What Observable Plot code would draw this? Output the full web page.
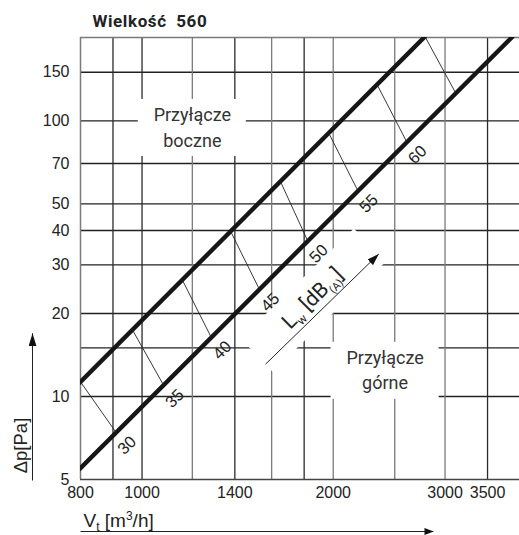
<!DOCTYPE html>
<html><head><meta charset="utf-8">
<script src="https://cdn.jsdelivr.net/npm/d3@7"></script>
<script src="https://cdn.jsdelivr.net/npm/@observablehq/plot@0.6"></script>
<style>body{margin:0;background:#fff} svg{display:block}</style>
</head><body><div id="chart"></div>
<script>
// ---- axes / grid values ----
const xTicks = [800, 1000, 1400, 2000, 3000, 3500];
const xGridDark = [900, 1000, 1400, 1800, 3500];
const xGridLight = [1200, 1600, 2000, 2500, 3000];
const yTicks = [5, 10, 20, 30, 40, 50, 70, 100, 150];
const yGrid = [10, 15, 20, 30, 40, 50, 70, 100, 150];

// ---- characteristic lines (V in m3/h, dp in Pa) ----
const sideV = [800, 2780];   // Przyłącze boczne
const sideP = [11.3, 200.5];
const topV = [800, 3820];    // Przyłącze górne
const topP = [5.5, 200.5];

// ---- sound power level segments ----
const dbLabels = ["30", "35", "40", "45", "50", "55", "60", ""];
const dbUpperV = [800, 965, 1157, 1379, 1652, 1968, 2346, 2795];
const dbUpperP = [11.3, 17.5, 26.5, 39.7, 60.2, 90.2, 135, 200.5];
const dbLowerV = [910, 1082, 1285, 1530, 1823, 2186, 2610, 3117];
const dbLowerP = [7.41, 10.96, 16.4, 24.5, 36.7, 55.9, 84.0, 126.3];

// ---- annotations ----
const regionNames = ["Przyłącze\nboczne", "Przyłącze\ngórne"];
const regionV = [1200, 2414];
const regionP = [95.8, 12.6];
const lwArrowV = [1565, 2360];
const lwArrowP = [13.1, 32.9];
const lwTextV = [1856];
const lwTextP = [22.7];
const xArrowV = [800, 2877];
const yArrowP = [5, 17.1];

const sideLine = sideV.map((V, i) => ({V, P: sideP[i]}));
const topLine = topV.map((V, i) => ({V, P: topP[i]}));
const dbIdx = dbLabels.map((_, i) => i);
const regions = regionNames.map((name, i) => ({name, V: regionV[i], P: regionP[i]}));

const ANN = "Roboto, 'DejaVu Sans', sans-serif";
const NUM = "'Liberation Sans', Arial, sans-serif";

const chart = Plot.plot({
  width: 519, height: 535,
  marginLeft: 80, marginRight: 0, marginTop: 37, marginBottom: 56,
  style: {fontFamily: NUM, fontSize: "16px", color: "#222", background: "#fff"},
  x: {type: "log", domain: [800, 3930], ticks: xTicks, tickSize: 0, tickPadding: 7, tickFormat: d => String(d), label: null},
  y: {type: "log", domain: [5, 200.5], axis: null},
  marks: [
    Plot.ruleY(yGrid, {stroke: "#222", strokeWidth: 1.3}),
    Plot.ruleX(xGridDark, {stroke: "#2a2a2a", strokeWidth: 1.3}),
    Plot.ruleX(xGridLight, {stroke: "#7a7a7a", strokeWidth: 1.3}),
    Plot.ruleX([800], {stroke: "#7a7a7a", strokeWidth: 1.5}),
    Plot.ruleY([5], {stroke: "#444", strokeWidth: 1.5}),
    Plot.ruleY([200.5], {stroke: "#7a7a7a", strokeWidth: 1.5}),
    // y tick labels
    Plot.text(yTicks, {frameAnchor: "left", y: d => d, text: d => String(d), dx: -11, textAnchor: "end",
      lineAnchor: "middle", fontFamily: NUM, fontSize: 16, fill: "#222"}),
    // white boxes behind region labels
    Plot.rect(regions, {x1: "V", x2: "V", y1: "P", y2: "P", fill: "white",
      insetLeft: -54, insetRight: -54, insetTop: -26.5, insetBottom: -30.5}),
    // white band behind Lw label and arrow
    Plot.link([0], {x1: () => lwArrowV[0], y1: () => lwArrowP[0], x2: () => lwArrowV[1], y2: () => lwArrowP[1],
      stroke: "white", strokeWidth: 46, dx: -9, dy: -9, strokeLinecap: "butt"}),
    // thick characteristic lines
    Plot.line(sideLine, {x: "V", y: "P", stroke: "#161616", strokeWidth: 4.4, strokeLinecap: "square", clip: true}),
    Plot.line(topLine, {x: "V", y: "P", stroke: "#161616", strokeWidth: 4.4, strokeLinecap: "square", clip: true}),
    // thin dB segments
    Plot.link(dbIdx, {x1: i => dbUpperV[i], y1: i => dbUpperP[i], x2: i => dbLowerV[i], y2: i => dbLowerP[i],
      stroke: "#222", strokeWidth: 0.9}),
    Plot.text(dbIdx.filter(i => dbLabels[i]), {x: i => dbLowerV[i], y: i => dbLowerP[i], text: i => dbLabels[i],
      rotate: -45, dx: 11, dy: 13, fontSize: 16.5, fill: "#222"}),
    // region labels
    Plot.text(regions, {x: "V", y: "P", text: "name", fontFamily: ANN, fontSize: 18, lineHeight: 1.4, fill: "#333"}),
    // Lw label and arrow
    Plot.text(["Lw [dB(A)]"], {x: () => lwTextV[0], y: () => lwTextP[0], text: d => d, rotate: -45,
      fontFamily: ANN, fontSize: 21, fill: "#222"}),
    Plot.link([0], {x1: () => lwArrowV[0], y1: () => lwArrowP[0], x2: () => lwArrowV[1], y2: () => lwArrowP[1],
      stroke: "#222", strokeWidth: 1, markerEnd: "arrow"}),
    // title
    Plot.text(["Wielkość  560"], {frameAnchor: "top-left", dx: 12, dy: -16, text: d => d, textAnchor: "start",
      lineAnchor: "middle", fontFamily: ANN, fontWeight: "bold", fontSize: 17, fill: "#222"}),
    // axis labels
    Plot.text(["Δp[Pa]"], {frameAnchor: "bottom-left", dx: -59, dy: -34, rotate: -90, text: d => d,
      textAnchor: "middle", lineAnchor: "middle", fontSize: 18.5, fill: "#222"}),
    Plot.text(["Vt [m3/h]"], {frameAnchor: "bottom-left", dx: 3, dy: 41, text: d => d, textAnchor: "start",
      lineAnchor: "middle", fontSize: 19, fill: "#222"}),
    // axis arrows
    Plot.link([0], {x1: () => xArrowV[0], x2: () => xArrowV[1], y1: () => 5, y2: () => 5, dy: 52,
      stroke: "#222", strokeWidth: 1, markerEnd: "arrow"}),
    Plot.link([0], {x1: () => 800, x2: () => 800, y1: () => yArrowP[0], y2: () => yArrowP[1], dx: -48, dy: 1,
      stroke: "#222", strokeWidth: 1, markerEnd: "arrow"})
  ]
});

document.getElementById("chart").appendChild(chart);

// rich text (subscripts / superscripts)
function findText(label) {
  return d3.select(chart).selectAll("text").filter(function () { return this.textContent === label; });
}
findText("Lw [dB(A)]").html('L<tspan dy="5" font-size="12">w</tspan><tspan dy="-5"> [dB</tspan><tspan dy="5" font-size="11">(A)</tspan><tspan dy="-5">]</tspan>');
findText("Vt [m3/h]").html('V<tspan dy="4" font-size="12">t</tspan><tspan dy="-4"> [m</tspan><tspan dy="-7" font-size="12">3</tspan><tspan dy="7">/h]</tspan>');
findText("Wielkość  560").style("white-space", "pre").style("letter-spacing", "0.6px");

// filled arrow heads (document order: Lw arrow, x arrow, y arrow)
const headSizes = [[12, 8], [9, 7], [13, 8]];
Array.from(chart.querySelectorAll("[marker-end]")).forEach((el, k) => {
  const size = headSizes[k];
  const ref = (el.getAttribute("marker-end") || "").match(/#([^)"']+)/);
  if (!size || !ref) return;
  const m = chart.querySelector("#" + CSS.escape(ref[1]));
  if (!m) return;
  const clone = m.cloneNode(false);
  clone.setAttribute("id", ref[1] + "-filled-" + k);
  clone.setAttribute("viewBox", "-10 -5 10 10");
  clone.setAttribute("preserveAspectRatio", "none");
  clone.setAttribute("markerUnits", "userSpaceOnUse");
  clone.setAttribute("markerWidth", size[0]);
  clone.setAttribute("markerHeight", size[1]);
  clone.setAttribute("refX", 0);
  clone.setAttribute("refY", 0);
  clone.setAttribute("orient", "auto");
  clone.setAttribute("fill", "#111");
  clone.setAttribute("stroke", "none");
  clone.innerHTML = '<path d="M-10,-5L0,0L-10,5Z"></path>';
  m.parentNode.insertBefore(clone, m);
  el.setAttribute("marker-end", `url(#${clone.id})`);
});
</script>
</body></html>
